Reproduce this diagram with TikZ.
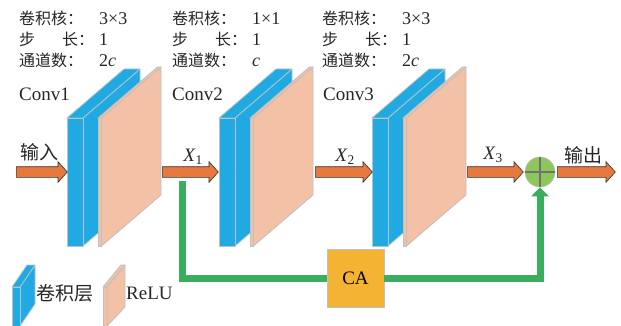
\documentclass[tikz,border=0pt]{standalone}
\usepackage{fontspec}
\setmainfont{Liberation Serif}
\newfontfamily\cjk{Noto Sans CJK SC}
\usetikzlibrary{shapes.arrows,arrows.meta}
\definecolor{convblue}{RGB}{33,169,225}
\definecolor{blueedge}{RGB}{178,196,206}
\definecolor{relupink}{RGB}{242,193,166}
\definecolor{pinkedge}{RGB}{192,192,192}
\definecolor{fatorange}{RGB}{232,121,62}
\definecolor{skipgreen}{RGB}{58,174,92}
\definecolor{cayellow}{RGB}{245,179,52}
\definecolor{sumgreen}{RGB}{141,199,92}
\newcommand\speclabel[1]{\makebox[80pt][l]{\fontsize{16pt}{21pt}\selectfont\cjk #1}}
\begin{document}
\begin{tikzpicture}[x=1pt,y=-1pt,
  font=\fontsize{19pt}{21pt}\selectfont,
  convface/.style={fill=convblue,draw=blueedge,line width=0.8pt,line join=round},
  relu/.style={fill=relupink,draw=pinkedge,line width=0.8pt,line join=round},
  fat/.style={single arrow,draw=black!80,fill=fatorange,line width=0.6pt,text height=5pt,text depth=5pt,
    single arrow head extend=5pt,single arrow tip angle=96,inner sep=0pt,anchor=tail},
  skip/.style={draw=skipgreen,line width=7pt},
  txt/.style={inner sep=0pt,text=black!85},
  spec/.style={txt,anchor=north west,align=left,font=\fontsize{18pt}{21pt}\selectfont}]
\useasboundingbox (0,0) rectangle (621,326);
% Conv blocks: conv layer + ReLU
\foreach \x in {67,219,372}{
  \draw[convface] (\x+16,118) -- (\x+73,69) -- (\x+73,197) -- (\x+16,246) -- cycle;
  \draw[convface] (\x,118) -- (\x+57,69) -- (\x+73,69) -- (\x+16,118) -- cycle;
  \draw[convface] (\x,118) rectangle (\x+16,246);
  \draw[relu] (\x+31,118) -- (\x+90.5,67) -- (\x+94,67) -- (\x+34.5,118) -- cycle;
  \draw[relu] (\x+31,118) rectangle (\x+34.5,246);
  \draw[relu] (\x+34.5,118) -- (\x+94,67) -- (\x+94,195) -- (\x+34.5,246) -- cycle;
}
% Settings
\node[spec] (spec1) at (19,11)
  {\speclabel{卷积核：}3×3\\\speclabel{步\hspace{27pt}长：}1\\\speclabel{通道数：}2\textit{c}};
\node[spec] (spec2) at (172,11)
  {\speclabel{卷积核：}1×1\\\speclabel{步\hspace{27pt}长：}1\\\speclabel{通道数：}\textit{c}};
\node[spec] (spec3) at (322,11)
  {\speclabel{卷积核：}3×3\\\speclabel{步\hspace{27pt}长：}1\\\speclabel{通道数：}2\textit{c}};
\node[txt,anchor=west] (lconv1) at (19,94) {Conv1};
\node[txt,anchor=west] (lconv2) at (172,94) {Conv2};
\node[txt,anchor=west] (lconv3) at (323,94) {Conv3};
% Main path
\node[fat,minimum height=51pt] (ain) at (16,172) {};
\node[fat,minimum height=56pt] (ax1) at (162,172) {};
\node[fat,minimum height=57pt] (ax2) at (315,172) {};
\node[fat,minimum height=56pt] (ax3) at (467,172) {};
\node[circle,fill=sumgreen,draw=pinkedge,line width=0.6pt,minimum size=30pt,inner sep=0pt] (sum) at (540,172) {};
\draw[black!55,line width=1.2pt] (sum.north) -- (sum.south) (sum.west) -- (sum.east);
\node[fat,minimum height=58pt] (aout) at (557,172) {};
\node[txt] (lin) at (39,152) {\cjk 输入};
\node[txt] (lx1) at (193,157) {\textit{X}\textsubscript{1}};
\node[txt] (lx2) at (345,157) {\textit{X}\textsubscript{2}};
\node[txt] (lx3) at (493,155) {\textit{X}\textsubscript{3}};
\node[txt] (lout) at (583,155) {\cjk 输出};
% Skip branch through CA
\coordinate (sk) at (182.5,181);
\node[fill=cayellow,draw=pinkedge,line width=0.6pt,minimum width=57pt,minimum height=58pt,inner sep=0pt] (ca) at (355.5,278) {CA};
\draw[skip] (sk) |- (ca);
\draw[skip,-{Triangle[width=17pt,length=9pt]}] (ca) -| (sum);
% Legend
\draw[convface] (20,287) -- (35,265) -- (35,304) -- (20,326) -- cycle;
\draw[convface] (12,287) -- (27,265) -- (35,265) -- (20,287) -- cycle;
\draw[convface] (12,287) rectangle (20,326);
\draw[relu] (103,287) -- (121,265) -- (125,265) -- (107,287) -- cycle;
\draw[relu] (103,287) rectangle (107,326);
\draw[relu] (107,287) -- (125,265) -- (125,307) -- (107,326) -- cycle;
\node[txt,anchor=west] (lconv) at (36,293) {\cjk 卷积层};
\node[txt,anchor=west] (lrelu) at (126,293) {ReLU};
\end{tikzpicture}
\end{document}
